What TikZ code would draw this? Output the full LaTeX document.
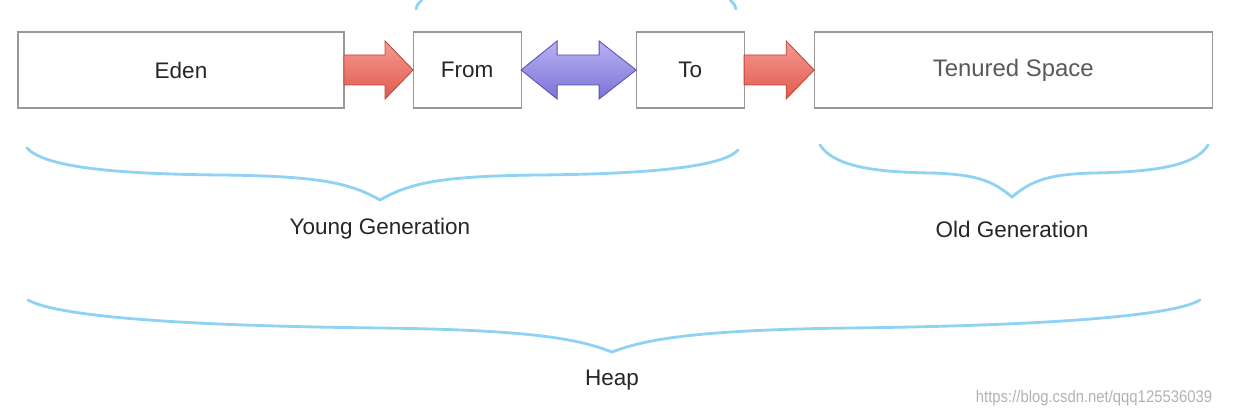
\documentclass[tikz,border=0pt]{standalone}
\usepackage{fontspec}
\setmainfont{Liberation Sans}
\usetikzlibrary{positioning,calc}
\definecolor{boxgray}{rgb}{0.6,0.6,0.6}
\definecolor{redtop}{HTML}{F49A90}
\definecolor{redbot}{HTML}{E05A4E}
\definecolor{redline}{HTML}{C2443A}
\definecolor{purtop}{HTML}{B8B2F2}
\definecolor{purbot}{HTML}{7C72D6}
\definecolor{purline}{HTML}{5A50B4}
\definecolor{braceblue}{HTML}{8FD2F2}

\begin{document}
\begin{tikzpicture}[x=0.025cm,y=-0.025cm,node distance=1.7cm]
	  \tikzstyle{region}=[rectangle,draw=boxgray,line width=0.8pt,fill=white,minimum height=1.9cm,inner sep=0pt,outer sep=0pt,font=\fontsize{16}{18}\selectfont,text=black!85]
	  \tikzstyle{fatred}=[draw=redline,line width=0.6pt,top color=redtop,bottom color=redbot,line join=miter]
	  \tikzstyle{fatpurple}=[draw=purline,line width=0.6pt,top color=purtop,bottom color=purbot,line join=miter]
	  \tikzstyle{curly}=[draw=braceblue,line width=2pt,line cap=round]
	  \tikzstyle{caption}=[font=\fontsize{16}{18}\selectfont,text=black!85]

	  \useasboundingbox (0,0) rectangle (1236,418);

	  \node[region,minimum width=8.15cm] (eden) at (181,70) {Eden};
	  \node[region,minimum width=2.7cm] (from) [right=1.725cm of eden] {From};
	  \node[region,minimum width=2.7cm] (to) [right=2.875cm of from] {To};
	  \node[region,minimum width=9.95cm,font=\fontsize{17}{19}\selectfont,text=black!65] (tenured) [right=1.75cm of to] {Tenured Space};

	  % eden -> from
	  \draw[fatred] ($(eden.east)+(0,-15)$) -- ($(from.west)+(-28,-15)$) -- ++(0,-14) -- (from.west)
	  -- ++(-28,29) -- ++(0,-14) -- ($(eden.east)+(0,15)$) -- cycle;
	  % from <-> to
	  \draw[fatpurple] (from.east) -- ++(36,-29) -- ++(0,14) -- ($(to.west)+(-37,-15)$) -- ++(0,-14) -- (to.west)
	  -- ++(-37,29) -- ++(0,-14) -- ($(from.east)+(36,15)$) -- ++(0,14) -- cycle;
	  % to -> tenured
	  \draw[fatred] ($(to.east)+(0,-15)$) -- ($(tenured.west)+(-28,-15)$) -- ++(0,-14) -- (tenured.west)
	  -- ++(-28,29) -- ++(0,-14) -- ($(to.east)+(0,15)$) -- cycle;

	  % braces
	  \draw[curly] (416,9) .. controls (417,5) and (419,2) .. (422,0);
	  \draw[curly] (736,9) .. controls (735,5) and (733,2) .. (730,0);
	  \draw[curly] (27,148) .. controls (45,168) and (120,174) .. (220,175)
	  .. controls (320,176) and (350,183) .. (380,200)
	  .. controls (410,183) and (440,176) .. (540,175)
	  .. controls (640,174) and (722,168) .. (738,150);
	  \draw[curly] (820,145) .. controls (835,168) and (880,172) .. (930,173)
	  .. controls (980,174) and (995,183) .. (1012,197)
	  .. controls (1029,183) and (1044,174) .. (1094,173)
	  .. controls (1144,172) and (1195,168) .. (1208,145);
	  \draw[curly] (28,300) .. controls (60,318) and (200,326) .. (380,328)
	  .. controls (540,330) and (580,340) .. (612,352)
	  .. controls (644,340) and (690,330) .. (850,328)
	  .. controls (1020,326) and (1170,318) .. (1200,300);

	  \node[caption] (young) at (380,229) {Young Generation};
	  \node[caption] (old) at (1012,229) {Old Generation};
	  \node[caption] (heap) at (612,380) {Heap};
	  \node[font=\fontsize{12}{14}\selectfont,text=black!30,xscale=0.88,transform shape] (mark) at (1094,398) {https://blog.csdn.net/qqq125536039};
	\end{tikzpicture}
\end{document}
